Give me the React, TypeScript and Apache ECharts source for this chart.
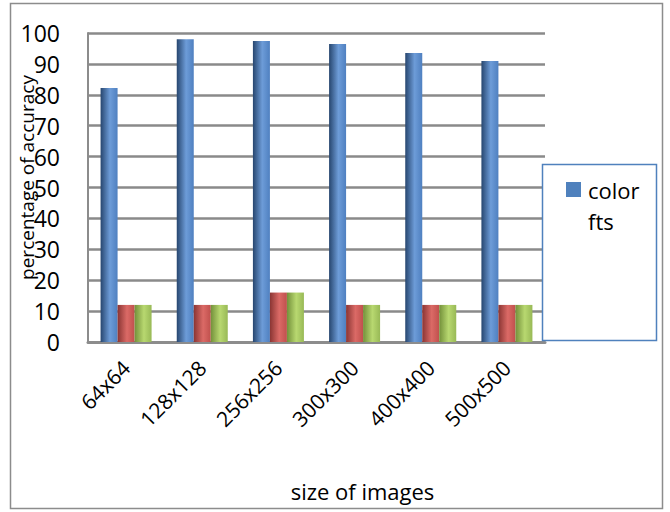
import { useEffect, useRef } from "react";
import * as echarts from "echarts";

const categories = ["64x64", "128x128", "256x256", "300x300", "400x400", "500x500"];
const seriesNames = ["color fts", "Series 2", "Series 3"];
const colorFts = [82.2, 98.0, 97.4, 96.4, 93.5, 90.9];
const series2 = [12, 12, 16, 12, 12, 12];
const series3 = [12, 12, 16, 12, 12, 12];
const yMin = 0;
const yMax = 100;
const yInterval = 10;

const FONT = "Open Sans";

function cyl(dark: string, light: string, mid: string) {
  return new echarts.graphic.LinearGradient(0, 0, 1, 0, [
    { offset: 0, color: dark },
    { offset: 0.55, color: light },
    { offset: 1, color: mid },
  ]);
}

export default function App() {
  const ref = useRef<HTMLDivElement>(null);
  useEffect(() => {
    if (!ref.current) return;
    const chart = echarts.init(ref.current, null, { renderer: "svg" });
    const seriesData = [colorFts, series2, series3];
    const fills = [
      cyl("#27466f", "#6d9cd8", "#4f80c0"),
      cyl("#8a3533", "#db6a66", "#c0504d"),
      cyl("#73903a", "#b8d870", "#98b956"),
    ];
    chart.setOption({
      animation: false,
      backgroundColor: "#ffffff",
      textStyle: { fontFamily: FONT },
      grid: {
        left: 88,
        right: 125,
        top: 33,
        bottom: 170,
        containLabel: false,
        outerBoundsMode: "none",
      },
      legend: { show: false, data: [seriesNames[0]] },
      graphic: [
        {
          type: "rect",
          shape: { x: 10.5, y: 3.5, width: 652, height: 505 },
          style: { fill: "none", stroke: "#8c8c8c", lineWidth: 1.5 },
          z: -1,
        },
        {
          type: "rect",
          shape: { x: 542.5, y: 164.5, width: 114, height: 176 },
          style: { fill: "#ffffff", stroke: "#4f81bd", lineWidth: 1.5 },
          z: 1,
        },
        {
          type: "rect",
          shape: { x: 566, y: 182, width: 15, height: 15 },
          style: { fill: "#4f81bd" },
          z: 2,
        },
        {
          type: "text",
          x: 588,
          y: 174,
          z: 2,
          style: {
            text: seriesNames[0],
            width: 62,
            overflow: "break",
            fontSize: 22,
            lineHeight: 31,
            fontFamily: FONT,
            fill: "#000",
            verticalAlign: "top",
            align: "left",
          },
        },
      ],
      xAxis: {
        type: "category",
        data: categories,
        axisTick: { show: false },
        axisLine: { show: true, lineStyle: { color: "#8c8c8c", width: 3 } },
        axisLabel: {
          interval: 0,
          rotate: 45,
          fontSize: 21,
          color: "#000",
          fontFamily: FONT,
          margin: 22,
        },
        name: "size of images",
        nameLocation: "middle",
        nameGap: 138,
        nameMoveOverlap: false,
        nameTextStyle: {
          fontSize: 22,
          color: "#000",
          fontFamily: FONT,
          padding: [0, 0, 0, 92],
        },
      },
      yAxis: {
        type: "value",
        min: yMin,
        max: yMax,
        interval: yInterval,
        axisLine: { show: true, lineStyle: { color: "#8c8c8c", width: 2 } },
        axisTick: { show: false },
        splitLine: { show: true, lineStyle: { color: "#8a8a8a", width: 2.5 } },
        axisLabel: {
          fontSize: 23,
          color: "#000",
          fontFamily: FONT,
          margin: 28,
        },
        name: "percentage of accuracy",
        nameLocation: "middle",
        nameGap: 52,
        nameMoveOverlap: false,
        nameTextStyle: {
          fontSize: 19,
          color: "#000",
          fontFamily: FONT,
          padding: [0, 0, 0, 20],
        },
      },
      series: seriesNames.map((name, i) => ({
        name,
        type: "bar",
        data: seriesData[i],
        barWidth: 17,
        barGap: "0%",
        itemStyle: { color: fills[i] },
        z: 3,
      })),
    });
    return () => chart.dispose();
  }, []);
  return (
    <div
      ref={ref}
      style={{ position: "absolute", left: 0, top: 0, width: 670, height: 512 }}
    />
  );
}
